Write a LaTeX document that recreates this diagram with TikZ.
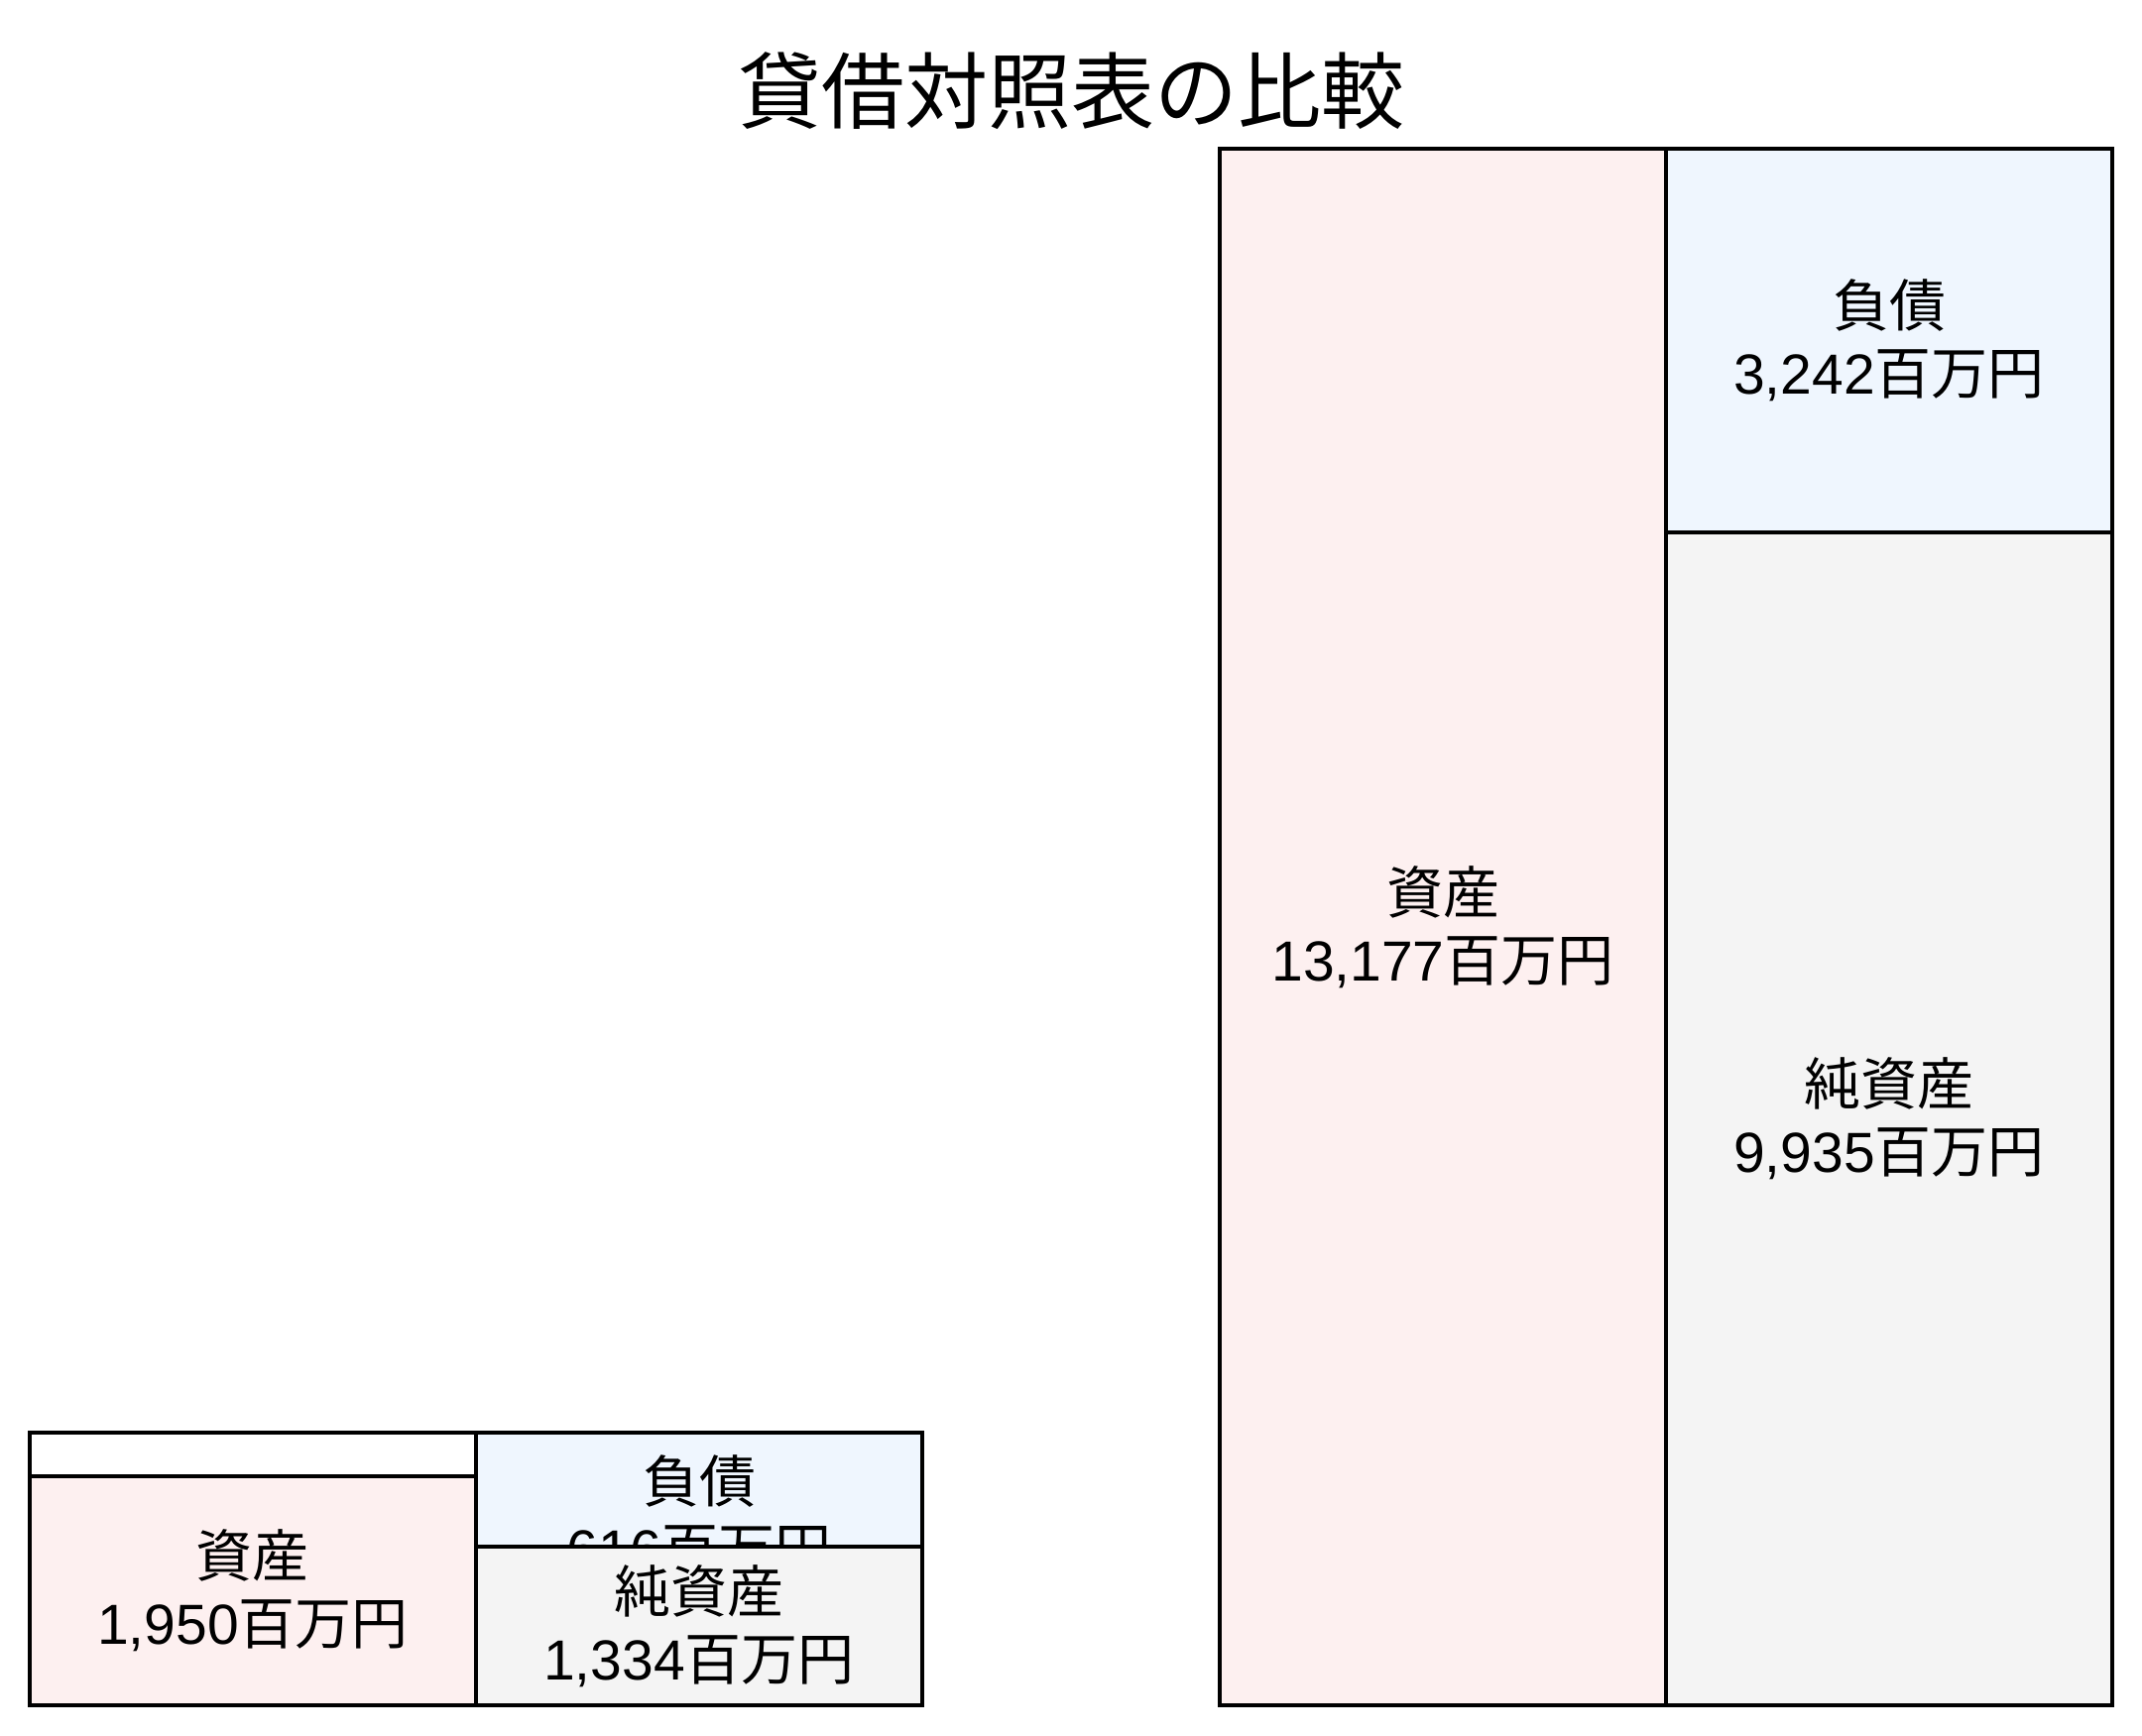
\documentclass[tikz,border=0pt]{standalone}
\usepackage{fontspec}
\setmainfont{Liberation Sans}
\newfontfamily\jp{Noto Sans CJK JP}
\usetikzlibrary{positioning}
\definecolor{assetpink}{RGB}{253,240,240}
\definecolor{liabblue}{RGB}{239,246,254}
\definecolor{equitygray}{RGB}{244,244,244}
\begin{document}
\begin{tikzpicture}[x=0.5pt,y=-0.5pt,
         bsbox/.style={draw=black,line width=2pt,inner sep=0pt,outer sep=0pt,align=center,
            minimum width=225pt,font=\fontsize{28.5}{34}\selectfont},
         asset/.style={bsbox,fill=assetpink},
         liab/.style={bsbox,fill=liabblue},
         equity/.style={bsbox,fill=equitygray},
         blank/.style={bsbox,fill=white}]
      \useasboundingbox (0,0) rectangle (2160,1751);
      %
         \node (title) at (1080,92) {\fontsize{42}{50}\selectfont\jp 貸借対照表の比較};
      %
         % Larger balance sheet
         \node (rasset) [asset,minimum height=785pt] at (1455,935)
            {{\jp 資産}\\13,177{\jp 百万円}};
         \node (rliab) [liab,minimum height=193.5pt,anchor=north west] at (rasset.north east)
            {{\jp 負債}\\3,242{\jp 百万円}};
         \node (requity) [equity,minimum height=591.5pt,anchor=north] at (rliab.south)
            {{\jp 純資産}\\9,935{\jp 百万円}};
      %
         % Smaller balance sheet
         \node (lframe) [blank,minimum height=137.5pt] at (255,1582.5) {};
         \node (lasset) [asset,minimum height=115.5pt,anchor=south] at (lframe.south)
            {{\jp 資産}\\1,950{\jp 百万円}};
         \node (lliab) [liab,minimum height=83pt,anchor=north west] at (lframe.north east)
            {{\jp 負債}\\616{\jp 百万円}};
         \node (lequity) [equity,minimum height=80pt,anchor=south west] at (lframe.south east)
            {{\jp 純資産}\\1,334{\jp 百万円}};
\end{tikzpicture}
\end{document}
